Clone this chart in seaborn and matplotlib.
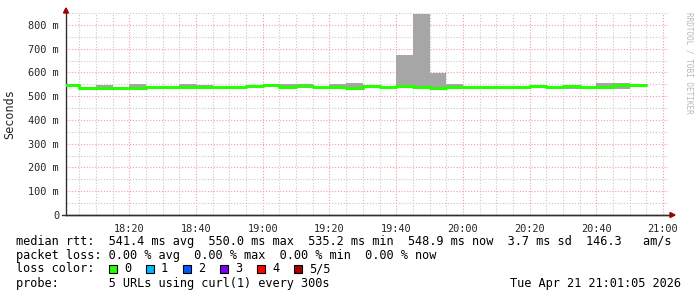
import numpy as np
import pandas as pd
import matplotlib
matplotlib.use("Agg")
import matplotlib.pyplot as plt
from matplotlib.patches import Rectangle, Polygon
import seaborn as sns

# ---- data (milliseconds, 5-minute bins starting 18:00) ----
bin_start_min = list(range(0, 175, 5))
median_ms = [545, 535, 535, 533, 533, 538, 538, 538, 538, 538, 538, 541, 545, 538, 542,
             540, 538, 536, 543, 538, 543, 538, 534, 540, 538, 540, 538, 538, 542, 538,
             542, 538, 538, 545, 546]
smoke_hi = [547, 537, 547, 538, 551, 540, 540, 551, 547, 540, 540, 543, 551, 551, 551,
            542, 551, 555, 545, 540, 675, 845, 597, 552, 540, 542, 540, 540, 545, 540,
            547, 540, 555, 555, 548]
smoke_lo = [543, 533, 526, 530, 526, 536, 536, 532, 535, 536, 536, 539, 543, 535, 535,
            536, 535, 530, 540, 533, 538, 536, 530, 530, 536, 538, 532, 532, 540, 536,
            532, 536, 532, 532, 544]
xtick_min = [20, 40, 60, 80, 100, 120, 140, 160, 180]
xtick_labels = ["18:20", "18:40", "19:00", "19:20", "19:40", "20:00", "20:20", "20:40", "21:00"]
ytick_vals = [0, 100, 200, 300, 400, 500, 600, 700, 800]
ytick_labels = ["0", "100 m", "200 m", "300 m", "400 m", "500 m", "600 m", "700 m", "800 m"]
loss_labels = ["0", "1", "2", "3", "4", "5/5"]
loss_colors = ["#26ff00", "#00b8ff", "#0059ff", "#7e00ff", "#ff0000", "#a00000"]

sns.set_style("white")
plt.rcParams["font.family"] = ["DejaVu Sans Mono", "DejaVu Sans"]

W, H = 697, 297
fig = plt.figure(figsize=(W / 100, H / 100), dpi=100)
L, R, B, T = 66, 668, 215, 13
ax = fig.add_axes([L / W, (H - B) / H, (R - L) / W, (B - T) / H])

t = np.array(bin_start_min + [bin_start_min[-1] + 5], dtype=float)
med = np.array(median_ms + [median_ms[-1]], dtype=float)
hi = np.array(smoke_hi + [smoke_hi[-1]], dtype=float)
lo = np.array(smoke_lo + [smoke_lo[-1]], dtype=float)

# grid
ax.set_xlim(1.0, 181.5)
ax.set_ylim(0, 850)
ax.set_xticks(xtick_min)
ax.set_xticklabels(xtick_labels)
ax.set_xticks(np.arange(5, 181, 5), minor=True)
ax.set_yticks(ytick_vals)
ax.set_yticklabels(ytick_labels)
ax.set_yticks(np.arange(50, 851, 100), minor=True)
ax.grid(True, which="minor", color="#c8c8c8", linestyle=(0, (1, 1.6)), linewidth=0.8)
ax.grid(True, which="major", color="#f0a0a0", linestyle=(0, (1, 1.6)), linewidth=0.8)
ax.set_axisbelow(True)

# smoke
ax.fill_between(t, lo, hi, step="post", color="#a6a6a6", linewidth=0, zorder=2)
# median line
df = pd.DataFrame({"t": t, "median": med})
sns.lineplot(data=df, x="t", y="median", ax=ax, color=loss_colors[0], linewidth=2.2,
             drawstyle="steps-post", zorder=3, legend=False)

ax.set_xlabel("")
ax.set_ylabel("Seconds", fontsize=8.5, family=["DejaVu Sans Mono"], labelpad=8.5)
for s in ["top", "right"]:
    ax.spines[s].set_visible(False)
for s in ["left", "bottom"]:
    ax.spines[s].set_color("#303030")
    ax.spines[s].set_linewidth(1.0)
ax.tick_params(axis="both", which="major", length=2.5, width=0.8, color="#303030",
               labelsize=7.4, pad=2.5)
ax.tick_params(axis="both", which="minor", length=1.5, width=0.6, color="#303030")
ax.tick_params(axis="x", pad=4)

# arrows
def figpt(x, y):
    return (x / W, 1 - y / H)
fig.patches.append(Polygon([figpt(670, 212.5), figpt(675, 215), figpt(670, 217.5)],
                           closed=True, transform=fig.transFigure, color="#a00000"))
fig.patches.append(Polygon([figpt(63.5, 13), figpt(66, 8), figpt(68.5, 13)],
                           closed=True, transform=fig.transFigure, color="#a00000"))
fig.add_artist(plt.Line2D([62 / W, 670 / W], [1 - 215 / H, 1 - 215 / H],
                          color="#303030", linewidth=1.0, transform=fig.transFigure))

# watermark
fig.text(689 / W, 1 - 12 / H, "RRDTOOL / TOBI OETIKER", rotation=270, fontsize=5.5,
         color="#b8b8b8", ha="center", va="top")

# legend text
fs = 8.6
x0 = 16 / W
def ty(y):
    return 1 - y / H
fig.text(x0, ty(241.5), "median rtt:  541.4 ms avg  550.0 ms max  535.2 ms min  548.9 ms now  3.7 ms sd  146.3   am/s",
         fontsize=fs, va="center", ha="left", color="black")
fig.text(x0, ty(255), "packet loss: 0.00 % avg  0.00 % max  0.00 % min  0.00 % now",
         fontsize=fs, va="center", ha="left", color="black")
fig.text(x0, ty(269), "loss color:", fontsize=fs, va="center", ha="left", color="black")
bx = 109
for lab, col in zip(loss_labels, loss_colors):
    fig.patches.append(Rectangle((bx / W, ty(273)), 8 / W, 8 / H, transform=fig.transFigure,
                                 facecolor=col, edgecolor="black", linewidth=0.8))
    fig.text((bx + 15) / W, ty(269), lab, fontsize=fs, va="center", ha="left", color="black")
    bx += 37
fig.text(x0, ty(283), "probe:       5 URLs using curl(1) every 300s",
         fontsize=fs, va="center", ha="left", color="black")
fig.text(681 / W, ty(283), "Tue Apr 21 21:01:05 2026", fontsize=fs, va="center", ha="right",
         color="black")

fig.savefig("out.png", dpi=100, facecolor="white")
